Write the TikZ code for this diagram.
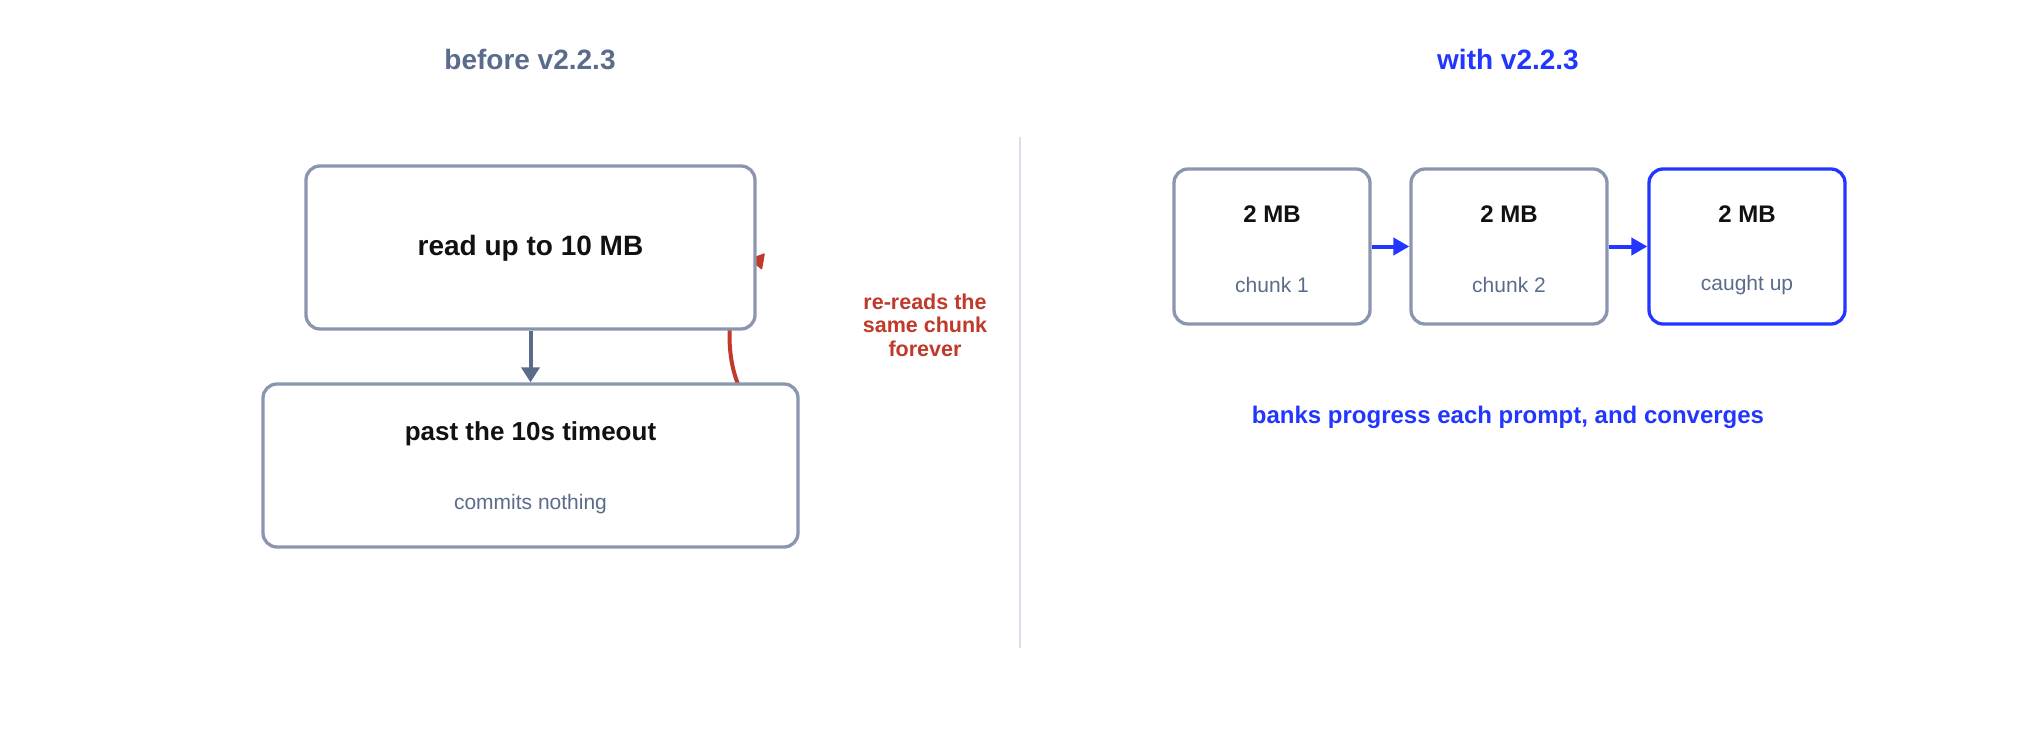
\documentclass[tikz,border=0pt]{standalone}
\usepackage{fontspec}
\setmainfont{Liberation Sans}
\usetikzlibrary{arrows.meta,calc}
\definecolor{slate}{HTML}{5B6B8C}
\definecolor{boxgray}{HTML}{8A96B0}
\definecolor{vblue}{HTML}{2236FF}
\definecolor{rred}{HTML}{C0392B}
\definecolor{ink}{HTML}{111111}
\definecolor{divc}{HTML}{DDE0EC}
\tikzset{
  card/.style={draw=boxgray, line width=3.3pt, rounded corners=14pt, fill=white, inner sep=0pt},
  title/.style={font=\fontsize{28}{32}\selectfont\bfseries},
  head/.style={font=\fontsize{26}{30}\selectfont\bfseries, text=ink},
  sub/.style={font=\fontsize{21}{25}\selectfont, text=slate},
  small/.style={font=\fontsize{24}{28}\selectfont\bfseries, text=ink},
  flow/.style={vblue, line width=4pt, -{Triangle[length=16pt,width=17pt]}},
}
\begin{document}
\begin{tikzpicture}[x=1pt,y=-1pt]
\useasboundingbox (0,0) rectangle (2040,750);
% titles
\node[title, text=slate] (t1) at (530,60) {before v2.2.3};
\node[title, text=vblue] (t2) at (1508,60) {with v2.2.3};
% divider
\draw[divc, line width=2pt] (1020,137) coordinate (d1) -- (1020,648) coordinate (d2);
% red loop (drawn first, boxes cover it)
\coordinate (rs) at (738,384);
\coordinate (re) at (750,262);
\coordinate (ha) at (765,253);
\coordinate (hb) at (762,270);
\coordinate (ht) at (749,259);
\draw[rred, line width=4pt] (rs) .. controls (722,345) and (730,285) .. (re);
\fill[rred, rounded corners=1pt] (ha) -- (hb) -- (ht) -- cycle;
% left boxes
\node[card, minimum width=449pt, minimum height=163pt] (read) at (530.5,247.5) {};
\node[card, minimum width=535pt, minimum height=163pt] (past) at (530.5,465.5) {};
\node[head, font=\fontsize{28}{32}\selectfont\bfseries] (readt) at (530.5,248) {read up to 10 MB};
\node[head] (pastt) at (530.5,434) {past the 10s timeout};
\node[sub] (pasts) at (530.5,504) {commits nothing};
\draw[slate, line width=4pt, -{Triangle[length=15pt,width=18pt]}] (read.south) -- (past.north);
% red label
\node[align=center, text=rred, font=\fontsize{21.5}{23.5}\selectfont\bfseries] (lab) at (925,325) {re-reads the\\same chunk\\forever};
% right boxes
\node[card, minimum width=196pt, minimum height=155pt] (c1) at (1272,246.5) {};
\node[card, minimum width=196pt, minimum height=155pt] (c2) at (1509,246.5) {};
\node[card, draw=vblue, minimum width=196pt, minimum height=155pt] (c3) at (1747,246.5) {};
\node[small] (c1h) at (1272,214) {2 MB};
\node[small] (c2h) at (1509,214) {2 MB};
\node[small] (c3h) at (1747,214) {2 MB};
\node[sub] (c1s) at (1272,285) {chunk 1};
\node[sub] (c2s) at (1509,285) {chunk 2};
\node[sub] (c3s) at (1747,285) {caught up};
\draw[flow] (c1.east) -- (c2.west);
\draw[flow] (c2.east) -- (c3.west);
\node[text=vblue, font=\fontsize{24}{28}\selectfont\bfseries] (banks) at (1508,417) {banks progress each prompt, and converges};
\end{tikzpicture}
\end{document}
